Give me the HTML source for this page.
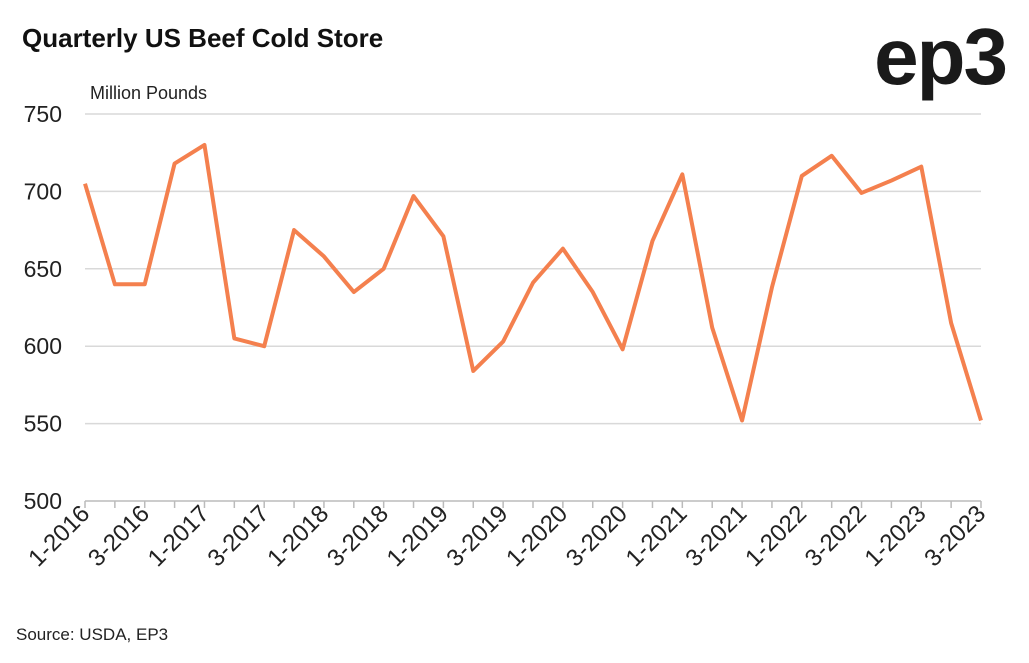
<!DOCTYPE html>
<html><head><meta charset="utf-8"><style>
body{margin:0;background:#fff;width:1029px;height:658px;overflow:hidden;font-family:"Liberation Sans",sans-serif;}
</style></head><body>
<svg width="1029" height="658" xmlns="http://www.w3.org/2000/svg">
<text x="22" y="47" font-size="26" font-weight="bold" fill="#111">Quarterly US Beef Cold Store</text>
<text x="1006" y="84" text-anchor="end" font-size="80" font-weight="bold" fill="#1a1a1a" letter-spacing="-2">ep3</text>
<text x="90" y="99" font-size="18" fill="#222">Million Pounds</text>
<text x="16" y="640" font-size="17" fill="#222">Source: USDA, EP3</text>
<g id="grid"></g><g id="xax"></g>
<polyline id="line" fill="none" stroke="#f4804e" stroke-width="4" stroke-linejoin="round"/>
</svg>
<script>
const categories=[];for(let y=2016;y<=2023;y++)for(let q=1;q<=4;q++)if(categories.length<31)categories.push(q+"-"+y);
const values=[705,640,640,718,730,605,600,675,658,635,650,697,671,584,603,641,663,635,598,668,711,612,552,638,710,723,699,707,716,615,552];
const yTicks=[500,550,600,650,700,750];
const NS="http://www.w3.org/2000/svg";
const x0=85,x1=981,yTop=114,yBot=501;
const xs=i=>x0+i*(x1-x0)/(categories.length-1);
const ys=v=>yBot-(v-500)/250*(yBot-yTop);
const svg=document.querySelector('svg'),grid=document.getElementById('grid'),xax=document.getElementById('xax');
function mk(t,a,p){const e=document.createElementNS(NS,t);for(const k in a)e.setAttribute(k,a[k]);p.appendChild(e);return e;}
yTicks.forEach(v=>{
 const l=mk('line',{x1:x0,x2:x1,y1:ys(v),y2:ys(v),stroke:v===500?'#bbb':'#d9d9d9','stroke-width':1.5},grid);
 
 
 const t=mk('text',{x:62,y:ys(v)+8,'text-anchor':'end','font-size':23,fill:'#222'},grid);t.textContent=v;
 
 
});
categories.forEach((c,i)=>{
 const x=xs(i);
 const tk=mk('line',{x1:x,x2:x,y1:yBot,y2:yBot+7,stroke:'#bbb','stroke-width':1.5},xax);
 
 
 if(i%2===0){
  const t=mk('text',{x:x+6,y:yBot+14,'text-anchor':'end','font-size':24,fill:'#222',transform:`rotate(-45 ${x+6} ${yBot+14})`},xax);
  t.textContent=c;
  
  
 }
});
document.getElementById('line').setAttribute('points',values.map((v,i)=>xs(i)+','+ys(v)).join(' '));
</script>
</body></html>
